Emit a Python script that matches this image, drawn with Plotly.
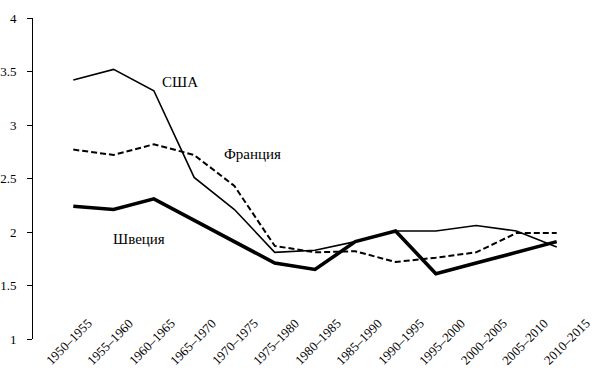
import plotly.graph_objects as go

periods = ["1950–1955", "1955–1960", "1960–1965", "1965–1970", "1970–1975",
           "1975–1980", "1980–1985", "1985–1990", "1990–1995", "1995–2000",
           "2000–2005", "2005–2010", "2010–2015"]
usa = [3.42, 3.52, 3.32, 2.51, 2.21, 1.81, 1.83, 1.91, 2.01, 2.01, 2.06, 2.01, 1.86]
france = [2.77, 2.72, 2.82, 2.72, 2.43, 1.87, 1.81, 1.82, 1.72, 1.76, 1.81, 1.99, 1.99]
sweden = [2.24, 2.21, 2.31, 2.11, 1.91, 1.71, 1.65, 1.91, 2.01, 1.61, 1.71, 1.81, 1.91]
y_ticks = [1, 1.5, 2, 2.5, 3, 3.5, 4]
y_tick_text = ["1", "1.5", "2", "2.5", "3", "3.5", "4"]

FONT = "Liberation Serif, Times New Roman, serif"
idx = list(range(len(periods)))

fig = go.Figure()
fig.add_trace(go.Scatter(x=idx, y=usa, mode="lines", name="США",
                         line=dict(color="black", width=1.6)))
fig.add_trace(go.Scatter(x=idx, y=france, mode="lines", name="Франция",
                         line=dict(color="black", width=2, dash="6px,3px")))
fig.add_trace(go.Scatter(x=idx, y=sweden, mode="lines", name="Швеция",
                         line=dict(color="black", width=3.6)))

annotations = []
for i, p in enumerate(periods):
    annotations.append(dict(x=i, y=-0.0093, xref="x", yref="paper", text=p,
                            textangle=-45, showarrow=False,
                            xanchor="center", yanchor="middle",
                            xshift=-4 + 1.2 * i,
                            font=dict(family=FONT, size=13, color="black")))

annotations += [
    dict(x=2.65, y=3.40, xref="x", yref="y", text="США", showarrow=False,
         font=dict(family=FONT, size=15, color="black")),
    dict(x=4.45, y=2.73, xref="x", yref="y", text="Франция", showarrow=False,
         font=dict(family=FONT, size=15, color="black")),
    dict(x=1.62, y=1.93, xref="x", yref="y", text="Швеция", showarrow=False,
         font=dict(family=FONT, size=15, color="black")),
]

fig.update_layout(
    width=600, height=372,
    margin=dict(l=33, r=3, t=18, b=33),
    paper_bgcolor="white", plot_bgcolor="white",
    showlegend=False,
    font=dict(family=FONT, size=12, color="black"),
    xaxis=dict(range=[-1, 13], showline=False, showgrid=False, zeroline=False,
               showticklabels=False, ticks="", automargin=False),
    yaxis=dict(range=[1, 4], tickvals=y_ticks, ticktext=y_tick_text,
               showline=True, linecolor="black", linewidth=1,
               ticks="outside", ticklen=5, tickcolor="black", tickwidth=1,
               ticklabelstandoff=8, automargin=False,
               showgrid=False, zeroline=False,
               tickfont=dict(family=FONT, size=13, color="black")),
    annotations=annotations,
)

fig.write_html("out.html", config={"displayModeBar": False},
               post_script="document.body.style.margin='0';")
